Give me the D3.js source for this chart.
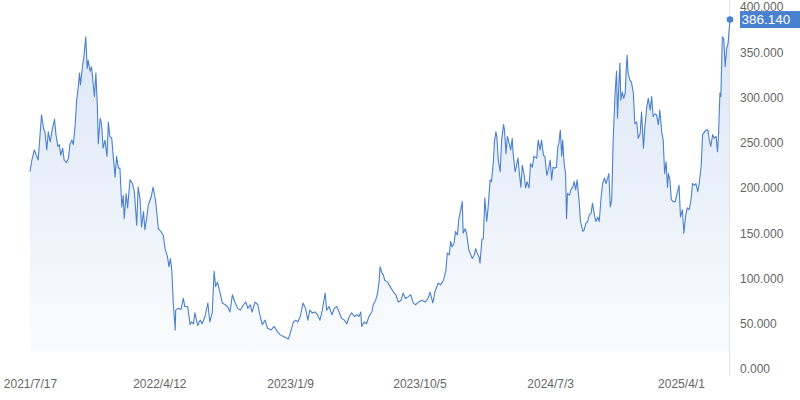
<!DOCTYPE html>
<html><head><meta charset="utf-8">
<script src="https://cdn.jsdelivr.net/npm/d3@7"></script>
<style>body{margin:0;background:#fff}svg{display:block;font-family:"Liberation Sans",Arial,sans-serif}</style>
</head><body><svg id="c" width="800" height="400"></svg>
<script>
const startDate = "2021-07-17";
const dayOffsets = [0,4,9,14,17,24,28,31,35,38,42,46,51,54,58,61,64,68,71,76,80,83,87,90,94,97,100,103,105,109,112,116,119,121,125,128,132,134,137,140,142,146,149,152,156,160,163,166,170,173,177,180,184,187,191,194,196,
200,203,208,213,217,222,225,229,232,236,239,243,246,252,256,261,267,272,277,281,286,289,292,295,298,302,303,308,314,319,322,328,333,336,340,343,349,354,358,364,370,374,379,383,386,390,395,400,406,411,
416,421,426,432,437,444,449,453,458,462,468,474,478,483,489,494,501,508,515,520,527,534,537,541,548,553,557,562,568,573,578,582,587,593,598,603,608,614,617,622,628,633,638,643,648,654,659,664,669,675,680,684,688,690,695,700,705,711,714,719,723,726,728,732,735,738,744,749,756,761,766,772,776,781,787,792,797,802,808,815,822,828,832,
838,842,849,854,860,865,868,872,875,878,882,885,889,892,896,899,901,905,908,913,917,920,924,927,930,934,936,940,943,946,950,953,957,960,964,966,969,971,974,978,981,985,987,990,993,996,1000,1003,1005,1009,1012,1015,1018,1021,1024,1028,1031,1034,1038,1041,1045,1048,
1054,1057,1061,1064,1068,1071,1075,1078,1082,1085,1088,1092,1095,1098,1100,1103,1106,1108,1111,1114,1116,1118,1122,1125,1129,1132,1135,1138,1142,1145,1150,1153,1156,1160,1163,1167,1170,1174,1177,1181,1184,1188,1191,1195,1198,1202,1204,1207,1210,1213,1217,1220,1222,1225,1227,1229,1232,1235,1238,1240,1242,1244,1248,
1251,1255,1258,1262,1265,1269,1272,1276,1279,1283,1286,1290,1293,1296,1300,1303,1307,1310,1314,1317,1320,1323,1326,1328,1331,1334,1338,1342,1346,1350,1353,1357,1360,1364,1367,1371,1375,1378,1382,1385,1389,1392,1396,1399,1403,1406,1410,1413,1416,1420,1423,1427,1430,1432,1435,1437,1440,1443,1446,1449,1452,1456];
const values = [218,231,242,235,231,281,266,262,242,262,251,264,276,259,246,248,236,244,231,228,233,248,253,248,270,297,310,327,314,334,345,367,332,341,329,334,312,301,327,292,249,277,270,244,253,235,273,257,255,236,212,235,222,222,179,192,166,
194,178,209,205,196,159,201,187,157,174,154,168,181,190,201,187,155,152,148,133,124,113,122,109,73,43,65,67,66,78,69,69,49,52,50,62,48,54,50,58,73,52,62,108,91,96,85,73,71,69,
63,82,74,67,65,71,74,67,71,63,74,71,60,49,54,45,43,47,41,38,36,34,33,39,52,54,52,58,73,67,54,65,62,63,60,54,65,84,65,69,60,67,69,63,56,54,50,58,62,58,60,58,63,47,52,50,58,63,71,76,84,96,113,106,104,98,96,91,85,82,74,76,84,78,80,82,73,71,74,76,74,78,85,
73,85,95,93,98,109,128,126,141,135,139,152,148,166,176,185,150,155,150,131,126,122,126,133,128,124,117,143,144,189,163,179,209,207,231,251,262,257,231,218,253,270,264,238,257,251,242,255,238,218,225,233,216,201,225,214,200,207,200,227,223,235,
233,253,242,253,236,235,214,220,231,209,223,222,223,246,249,264,235,253,227,216,166,194,192,198,201,207,198,209,187,163,152,154,161,163,170,172,183,170,163,168,163,190,205,211,205,212,216,179,187,253,305,329,277,316,338,297,306,299,305,330,347,327,319,
317,305,271,273,255,260,284,244,268,290,299,286,301,279,282,281,270,286,262,253,216,229,201,216,209,187,185,185,194,203,168,176,150,170,178,176,187,205,203,205,196,205,224,259,262,264,264,253,246,259,255,257,240,257,305,301,367,365,334,354,360,386.14];
const yTicks = [0,50,100,150,200,250,300,350,400];
const xTickLabels = ["2021/7/17","2022/4/12","2023/1/9","2023/10/5","2024/7/3","2025/4/1"];
const areaFloorValue = 19;

const lineColor = "#4a80cf";
const svg = d3.select("#c");
const t0 = d3.timeParse("%Y-%m-%d")(startDate);
const data = dayOffsets.map((d,i)=>({date:d3.timeDay.offset(t0,d), value:values[i]}));
const last = data[data.length-1];

const x = d3.scaleTime().domain([t0, last.date]).range([30,730]);
const y = d3.scaleLinear().domain([0,400]).range([369,7]);

const defs = svg.append("defs");
const grad = defs.append("linearGradient").attr("id","g").attr("gradientUnits","userSpaceOnUse")
  .attr("x1",0).attr("x2",0).attr("y1",y(386)).attr("y2",y(areaFloorValue));
grad.append("stop").attr("offset","0%").attr("stop-color",lineColor).attr("stop-opacity",0.2);
grad.append("stop").attr("offset","100%").attr("stop-color",lineColor).attr("stop-opacity",0.03);

svg.append("path").datum(data)
  .attr("fill","url(#g)")
  .attr("d", d3.area().x(d=>x(d.date)).y0(y(areaFloorValue)).y1(d=>y(d.value)));

svg.append("line").attr("x1",729.5).attr("x2",729.5).attr("y1",0).attr("y2",376)
  .attr("stroke","#e3e3e3").attr("stroke-width",1);

svg.append("path").datum(data)
  .attr("fill","none").attr("stroke",lineColor).attr("stroke-width",1.1)
  .attr("stroke-linejoin","round")
  .attr("d", d3.line().x(d=>x(d.date)).y(d=>y(d.value)));

const pTick = d3.timeParse("%Y/%m/%d");
const xAxis = svg.append("g").attr("transform","translate(0,376)")
  .call(d3.axisBottom(x).tickValues(xTickLabels.map(pTick)).tickFormat(d3.timeFormat("%Y/%-m/%-d")).tickSize(0).tickPadding(3));
xAxis.select(".domain").remove();
xAxis.selectAll("text").attr("fill","#666").style("font-size","12px").style("font-family",'"Liberation Sans",Arial,sans-serif');

const yAxis = svg.append("g").attr("transform","translate(740,0)")
  .call(d3.axisRight(y).tickValues(yTicks).tickFormat(d3.format(".3f")).tickSize(0).tickPadding(0));
yAxis.select(".domain").remove();
yAxis.selectAll("text").attr("fill","#666").style("font-size","12px").style("font-family",'"Liberation Sans",Arial,sans-serif');

svg.append("circle").attr("cx",x(last.date)).attr("cy",y(last.value)).attr("r",3.3).attr("fill",lineColor);
svg.append("rect").attr("x",740).attr("y",y(last.value)-8.5).attr("width",60).attr("height",17).attr("fill","#4a80d0");
svg.append("text").attr("x",741.5).attr("y",y(last.value)).attr("dy","0.36em")
  .attr("fill","#fff").style("font-size","13.5px").text(d3.format(".3f")(last.value));
</script></body></html>
